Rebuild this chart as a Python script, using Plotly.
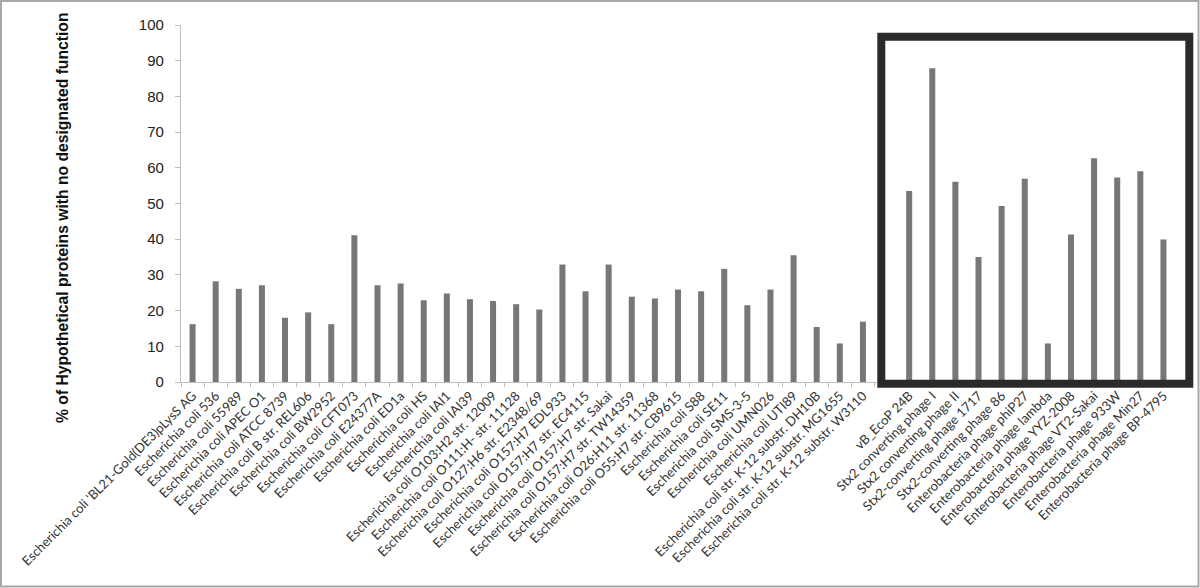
import plotly.graph_objects as go

ecoli = [
    "Escherichia coli 'BL21-Gold(DE3)pLysS AG",
    "Escherichia coli 536",
    "Escherichia coli 55989",
    "Escherichia coli APEC O1",
    "Escherichia coli ATCC 8739",
    "Escherichia coli B str. REL606",
    "Escherichia coli BW2952",
    "Escherichia coli CFT073",
    "Escherichia coli E24377A",
    "Escherichia coli ED1a",
    "Escherichia coli HS",
    "Escherichia coli IAI1",
    "Escherichia coli IAI39",
    "Escherichia coli O103:H2 str. 12009",
    "Escherichia coli O111:H- str. 11128",
    "Escherichia coli O127:H6 str. E2348/69",
    "Escherichia coli O157:H7 EDL933",
    "Escherichia coli O157:H7 str. EC4115",
    "Escherichia coli O157:H7 str. Sakai",
    "Escherichia coli O157:H7 str. TW14359",
    "Escherichia coli O26:H11 str. 11368",
    "Escherichia coli O55:H7 str. CB9615",
    "Escherichia coli S88",
    "Escherichia coli SE11",
    "Escherichia coli SMS-3-5",
    "Escherichia coli UMN026",
    "Escherichia coli UTI89",
    "Escherichia coli str. K-12 substr. DH10B",
    "Escherichia coli str. K-12 substr. MG1655",
    "Escherichia coli str. K-12 substr. W3110",
]
ecoli_values = [16.2, 28.2, 26.1, 27.1, 18.0, 19.5, 16.2, 41.1, 27.1, 27.6,
                22.9, 24.8, 23.2, 22.7, 21.8, 20.3, 32.9, 25.4, 32.9, 23.9,
                23.4, 25.9, 25.4, 31.7, 21.5, 25.9, 35.5, 15.4, 10.8, 16.9]

phages = [
    "vB_EcoP 24B",
    "Stx2 converting phage I",
    "Stx2 converting phage II",
    "Stx2-converting phage 1717",
    "Stx2-converting phage 86",
    "Enterobacteria phage phiP27",
    "Enterobacteria phage lambda",
    "Enterobacteria phage YYZ-2008",
    "Enterobacteria phage VT2-Sakai",
    "Enterobacteria phage 933W",
    "Enterobacteria phage Min27",
    "Enterobacteria phage BP-4795",
]
phage_values = [53.5, 87.9, 56.1, 35.0, 49.3, 56.9, 10.8, 41.3, 62.7, 57.3, 59.0, 39.9]

gap_label = " "
categories = ecoli + [gap_label] + phages
values = ecoli_values + [None] + phage_values

y_title = "% of Hypothetical proteins with no designated function"
y_ticks = list(range(0, 101, 10))

W, H = 1200, 588
L, R, T, B = 181, 25, 25, 206
PW, PH = W - L - R, H - T - B


def px_x(x):
    return (x - L) / PW


def px_y(y):
    return (H - B - y) / PH


fig = go.Figure(go.Bar(
    x=categories, y=values,
    marker=dict(color="#777777", line=dict(width=0)),
))

fig.update_layout(
    width=W, height=H,
    margin=dict(l=L, r=R, t=T, b=B),
    paper_bgcolor="white", plot_bgcolor="white",
    bargap=0.74,
    showlegend=False,
    font=dict(family="Lato, Liberation Sans, sans-serif", color="#333333"),
)

fig.update_xaxes(
    type="category",
    categoryorder="array", categoryarray=categories,
    tickangle=-45,
    tickfont=dict(family="Lato, sans-serif", size=13, color="#333333"),
    showline=True, linecolor="#bfbfbf", linewidth=1.3,
    ticks="outside", tickson="boundaries", ticklen=4, tickcolor="#bfbfbf",
    showgrid=False, zeroline=False,
    automargin=False,
)

fig.update_yaxes(
    range=[0, 100],
    tickvals=y_ticks,
    tickfont=dict(family="Liberation Sans, sans-serif", size=15, color="#222222"),
    showline=True, linecolor="#bfbfbf", linewidth=1.3,
    ticks="outside", ticklen=5, tickcolor="#bfbfbf",
    ticklabelstandoff=8,
    showgrid=False, zeroline=False,
    automargin=False,
)

fig.add_annotation(
    text="<b>" + y_title + "</b>",
    xref="paper", yref="paper",
    x=px_x(62), y=px_y(218),
    xanchor="center", yanchor="middle",
    textangle=-90, showarrow=False,
    font=dict(family="Liberation Sans, sans-serif", size=15.7, color="#111111"),
)

# highlight box around the phage group
fig.add_shape(
    type="rect", xref="paper", yref="paper",
    x0=px_x(881.3), x1=px_x(1189.3), y0=px_y(383.7), y1=px_y(36.7),
    line=dict(color="#2a2a2a", width=8), fillcolor="rgba(0,0,0,0)",
    layer="above",
)

# thin image frame
fig.add_shape(
    type="rect", xref="paper", yref="paper",
    x0=px_x(1), x1=px_x(1198.5), y0=px_y(586.5), y1=px_y(1),
    line=dict(color="#a8a8a8", width=2), fillcolor="rgba(0,0,0,0)",
)

fig.write_html("out.html",
               config={"displayModeBar": False},
               post_script="document.body.style.margin='0';document.body.style.overflow='hidden';")
